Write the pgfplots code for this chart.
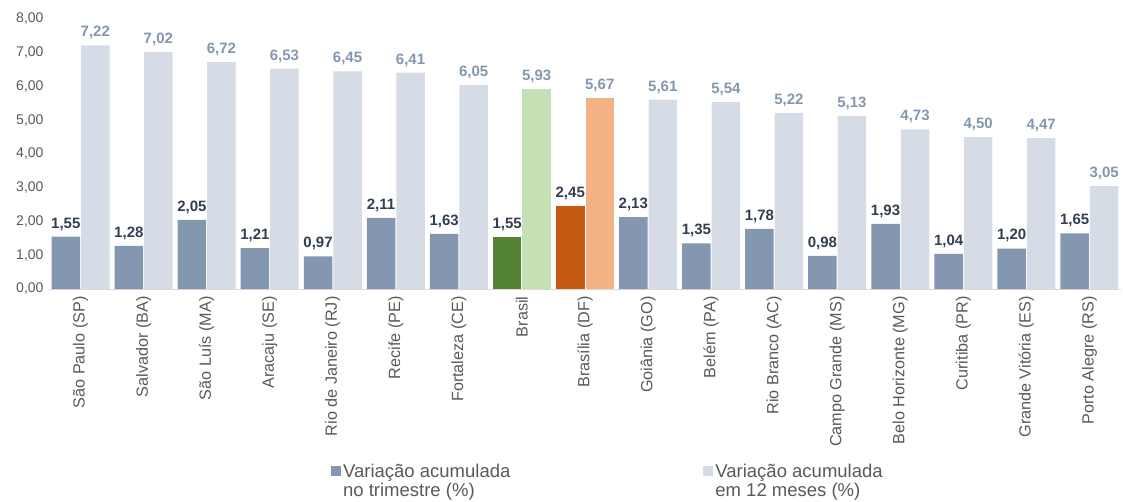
\documentclass[border=0pt]{standalone}
\usepackage{pgfplots}
\pgfplotsset{compat=1.18}
\usepackage{fontspec}
\setmainfont{Liberation Sans}
\definecolor{barDark}{HTML}{8497B0}
\definecolor{barLight}{HTML}{D6DCE5}
\definecolor{greenDark}{HTML}{548235}
\definecolor{greenLight}{HTML}{C5E0B4}
\definecolor{orangeDark}{HTML}{C55A11}
\definecolor{orangeLight}{HTML}{F4B183}
\definecolor{labDark}{HTML}{333F50}
\definecolor{txtGrey}{HTML}{595959}
\definecolor{lineGrey}{HTML}{D9D9D9}

\begin{document}
\begin{tikzpicture}
\path[use as bounding box] (-49pt,-212pt) rectangle (1074pt,289pt);
\begin{axis}[
  scale only axis,
  width=1072pt, height=270pt,
  at={(0pt,0pt)}, anchor=south west,
  xmin=-0.5, xmax=16.5, ymin=0, ymax=8,
  ybar,
  bar width=28.5pt,
  xtick={0,...,16},
  xticklabels={São Paulo (SP), Salvador (BA), São Luís (MA), Aracaju (SE),
    Rio de Janeiro (RJ), Recife (PE), Fortaleza (CE), Brasil, Brasília (DF),
    Goiânia (GO), Belém (PA), Rio Branco (AC), Campo Grande (MS),
    Belo Horizonte (MG), Curitiba (PR), Grande Vitória (ES), Porto Alegre (RS)},
  ytick={0,1,...,8},
  major tick length=0pt,
  axis x line*=bottom, axis y line*=left,
  x axis line style={draw=lineGrey, line width=1pt, -},
  y axis line style={draw=none},
  /pgf/number format/use comma,
  /pgf/number format/fixed,
  /pgf/number format/fixed zerofill,
  /pgf/number format/precision=2,
  /pgf/number format/assume math mode=true,
  tick label style={text=txtGrey},
  yticklabel style={font=\fontsize{14}{16}\selectfont, xshift=-2pt},
  xticklabel style={font=\fontsize{16.2}{18}\selectfont, rotate=90, anchor=east, xshift=-4pt},
  nodes near coords,
  nodes near coords style={font=\bfseries\fontsize{15}{18}\selectfont, inner sep=3pt, yshift=3pt},
  legend image code/.code={\fill[#1] (0pt,1pt) rectangle (10pt,11pt);},
  legend style={at={(0.263,-0.64)}, anchor=north west, draw=none, fill=none,
    inner sep=0pt, font=\fontsize{18.5}{19}\selectfont, text=txtGrey,
    cells={anchor=base west},
    legend columns=2,
    /tikz/column 2/.style={column sep=191pt}},
]
\addplot[fill=barDark, draw=none, bar shift=-14.75pt,
  nodes near coords style={text=labDark}] coordinates {
  (0,1.55) (1,1.28) (2,2.05) (3,1.21) (4,0.97) (5,2.11) (6,1.63)
  (9,2.13) (10,1.35) (11,1.78) (12,0.98) (13,1.93) (14,1.04) (15,1.20) (16,1.65)};
\addlegendentry{\begin{tabular}[t]{@{}l@{}}Variação acumulada\\no trimestre (\%)\end{tabular}}
\addplot[fill=barLight, draw=none, bar shift=14.75pt,
  nodes near coords style={text=barDark}] coordinates {
  (0,7.22) (1,7.02) (2,6.72) (3,6.53) (4,6.45) (5,6.41) (6,6.05)
  (9,5.61) (10,5.54) (11,5.22) (12,5.13) (13,4.73) (14,4.50) (15,4.47) (16,3.05)};
\addlegendentry{\begin{tabular}[t]{@{}l@{}}Variação acumulada\\em 12 meses (\%)\end{tabular}}
\addplot[forget plot, fill=greenDark, draw=none, bar shift=-14.75pt,
  nodes near coords style={text=labDark}] coordinates {(7,1.55)};
\addplot[forget plot, fill=greenLight, draw=none, bar shift=14.75pt,
  nodes near coords style={text=barDark}] coordinates {(7,5.93)};
\addplot[forget plot, fill=orangeDark, draw=none, bar shift=-14.75pt,
  nodes near coords style={text=labDark}] coordinates {(8,2.45)};
\addplot[forget plot, fill=orangeLight, draw=none, bar shift=14.75pt,
  nodes near coords style={text=barDark}] coordinates {(8,5.67)};
\end{axis}
\end{tikzpicture}
\end{document}
